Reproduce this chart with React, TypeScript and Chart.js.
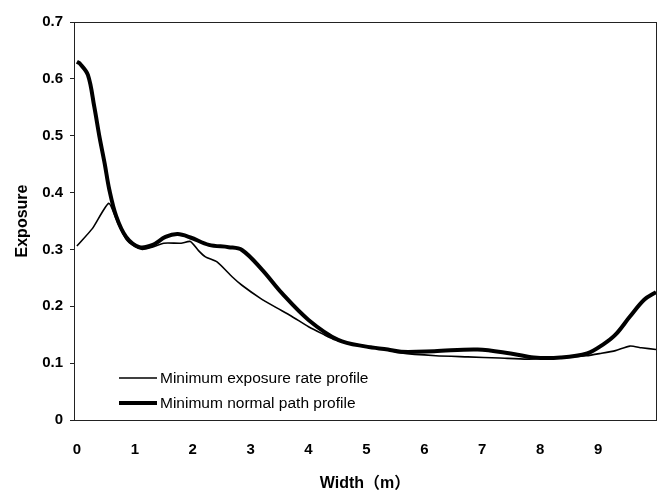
import React, { useEffect, useRef } from "react";
import { Chart, registerables } from "chart.js";

Chart.register(...registerables);

const rateX = [0, 0.27, 0.55, 0.7, 0.85, 1.0, 1.13, 1.3, 1.5, 1.8, 1.96, 2.1, 2.22, 2.42, 2.68, 2.85, 3.17, 3.42, 3.7, 4.0, 4.25, 4.46, 4.8, 5.14, 5.6, 6.2, 6.75, 7.3, 7.78, 8.35, 8.8, 9.04, 9.3, 9.55, 9.75, 10];
const rateY = [0.306, 0.337, 0.381, 0.348, 0.318, 0.305, 0.300, 0.304, 0.311, 0.311, 0.314, 0.298, 0.287, 0.278, 0.252, 0.237, 0.214, 0.199, 0.183, 0.164, 0.151, 0.141, 0.133, 0.128, 0.118, 0.113, 0.111, 0.109, 0.107, 0.110, 0.113, 0.117, 0.122, 0.130, 0.127, 0.124];

const pathX = [0, 0.05, 0.19, 0.30, 0.39, 0.48, 0.56, 0.68, 0.85, 1.08, 1.31, 1.53, 1.74, 1.96, 2.28, 2.62, 2.85, 3.2, 3.54, 4.0, 4.51, 5.0, 5.37, 5.6, 6.17, 6.92, 7.49, 7.89, 8.35, 8.81, 9.09, 9.3, 9.55, 9.8, 10];
const pathY = [0.630, 0.627, 0.607, 0.551, 0.498, 0.451, 0.405, 0.358, 0.322, 0.304, 0.308, 0.322, 0.327, 0.321, 0.308, 0.304, 0.299, 0.264, 0.223, 0.176, 0.141, 0.129, 0.124, 0.120, 0.121, 0.124, 0.117, 0.110, 0.110, 0.117, 0.133, 0.150, 0.182, 0.212, 0.225];

const xTickValues = [0, 1, 2, 3, 4, 5, 6, 7, 8, 9];
const yTickValues = [0, 0.1, 0.2, 0.3, 0.4, 0.5, 0.6, 0.7];

const seriesNames = ["Minimum exposure rate profile", "Minimum normal path profile"];
const xTitle = "Width（m）";
const yTitle = "Exposure";

const FONT = "'Liberation Sans', Arial, 'Noto Sans CJK SC', sans-serif";

const framePlugin = {
  id: "frameLegend",
  afterDraw(chart: any) {
    const { ctx, chartArea } = chart;
    ctx.save();
    ctx.strokeStyle = "#222";
    ctx.lineWidth = 1;
    ctx.strokeRect(chartArea.left + 0.5, chartArea.top + 0.5, chartArea.right - chartArea.left, chartArea.bottom - chartArea.top);
    const x0 = chartArea.left + 45;
    const x1 = chartArea.left + 83;
    const rows = [chartArea.top + 356, chartArea.top + 381];
    chart.data.datasets.forEach((ds: any, i: number) => {
      ctx.beginPath();
      ctx.strokeStyle = ds.borderColor;
      ctx.lineWidth = ds.borderWidth;
      ctx.moveTo(x0, rows[i]);
      ctx.lineTo(x1, rows[i]);
      ctx.stroke();
      ctx.fillStyle = "#000";
      ctx.font = `15.5px ${FONT}`;
      ctx.textBaseline = "middle";
      ctx.textAlign = "left";
      ctx.fillText(ds.label, x1 + 3, rows[i] + 1);
    });
    ctx.restore();
  },
};

export default function App() {
  const ref = useRef<HTMLCanvasElement | null>(null);
  useEffect(() => {
    if (!ref.current) return;
    const chart = new Chart(ref.current, {
      type: "line",
      data: {
        datasets: [
          {
            label: seriesNames[0],
            data: rateX.map((x, i) => ({ x, y: rateY[i] })),
            borderColor: "#000",
            borderWidth: 1.6,
            pointRadius: 0,
            tension: 0.2,
            fill: false,
          },
          {
            label: seriesNames[1],
            data: pathX.map((x, i) => ({ x, y: pathY[i] })),
            borderColor: "#000",
            borderWidth: 4,
            pointRadius: 0,
            tension: 0.35,
            fill: false,
          },
        ],
      },
      options: {
        animation: false,
        responsive: true,
        maintainAspectRatio: false,
        layout: { padding: { left: 0, top: 22, right: 8, bottom: 0 } },
        plugins: { legend: { display: false }, tooltip: { enabled: false } },
        scales: {
          x: {
            type: "linear",
            min: -0.05,
            max: 10,
            afterBuildTicks: (s: any) => { s.ticks = xTickValues.map((v) => ({ value: v })); },
            afterFit: (s: any) => { s.height = 70; s.paddingLeft = 0; s.paddingRight = 0; },
            grid: { display: false, drawTicks: false },
            border: { display: true, color: "#222", width: 1 },
            ticks: {
              padding: 21,
              color: "#000",
              font: { family: FONT, size: 15, weight: "bold" },
              callback: (v: any) => String(v),
            },
            title: {
              display: true,
              text: xTitle,
              color: "#000",
              font: { family: FONT, size: 16, weight: "bold" },
              padding: { top: 6, bottom: -3 },
            },
          },
          y: {
            min: 0,
            max: 0.7,
            afterBuildTicks: (s: any) => { s.ticks = yTickValues.map((v) => ({ value: v })); },
            afterFit: (s: any) => { s.width = 74; s.paddingTop = 0; s.paddingBottom = 0; },
            grid: { display: true, drawOnChartArea: false, drawTicks: true, tickLength: 4, color: "#222" },
            border: { display: true, color: "#222", width: 1 },
            ticks: {
              padding: 7,
              color: "#000",
              font: { family: FONT, size: 15, weight: "bold" },
              callback: (v: any) => (Math.abs(v) < 1e-9 ? "0" : Number(v).toFixed(1)),
            },
            title: {
              display: true,
              text: yTitle,
              color: "#000",
              font: { family: FONT, size: 16, weight: "bold" },
              padding: { top: 13, bottom: 0 },
            },
          },
        },
      },
      plugins: [framePlugin],
    });
    return () => chart.destroy();
  }, []);
  return (
    <div style={{ position: "fixed", left: 0, top: 0, width: 664, height: 490, background: "#fff" }}>
      <canvas ref={ref} />
    </div>
  );
}
